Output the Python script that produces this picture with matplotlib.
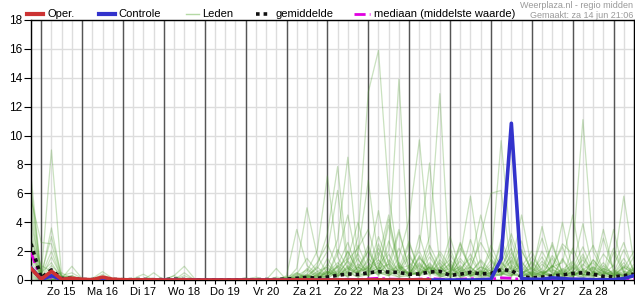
import numpy as np
import matplotlib
matplotlib.use("Agg")
import matplotlib.pyplot as plt
from matplotlib.lines import Line2D

plt.rcParams['font.family'] = ['Liberation Sans', 'DejaVu Sans']

# 6-hourly steps from za 14 jun 18:00 to zo 29 jun 12:00
n_steps = 60
day_labels = ["Zo 15", "Ma 16", "Di 17", "Wo 18", "Do 19", "Vr 20", "Za 21",
              "Zo 22", "Ma 23", "Di 24", "Wo 25", "Do 26", "Vr 27", "Za 28"]

oper = [0.8, 0.05, 0.6, 0.05, 0.12, 0.05, 0.02, 0.2, 0.05, 0.02,
        0.01, 0.01, 0.01, 0.0, 0.0, 0.01, 0.0, 0.0, 0.0, 0.0,
        0.0, 0.0, 0.0, 0.0, 0.0, 0.0, 0.01, 0.01, 0.0, 0.0,
        0.01, 0.0, 0.0, 0.01, 0.01, 0.0, 0.0, 0.0, 0.01, 0.0]

controle = [0.85, 0.03, 0.3, 0.03, 0.05, 0.02, 0.0, 0.05, 0.0, 0.0,
            0.0, 0.0, 0.0, 0.0, 0.0, 0.0, 0.0, 0.0, 0.0, 0.0,
            0.0, 0.0, 0.0, 0.0, 0.0, 0.0, 0.0, 0.0, 0.0, 0.0,
            0.0, 0.0, 0.0, 0.0, 0.0, 0.0, 0.0, 0.0, 0.0, 0.0,
            0.0, 0.0, 0.0, 0.0, 0.02, 0.05, 1.45, 10.85, 0.1, 0.05,
            0.05, 0.15, 0.1, 0.05, 0.05, 0.02, 0.02, 0.02, 0.1, 0.3]

gemiddelde = [2.5, 0.15, 0.7, 0.1, 0.12, 0.03, 0.03, 0.1, 0.04, 0.02,
              0.03, 0.04, 0.02, 0.03, 0.06, 0.03, 0.01, 0.01, 0.01, 0.01,
              0.01, 0.02, 0.02, 0.03, 0.03, 0.06, 0.12, 0.18, 0.12, 0.2,
              0.32, 0.42, 0.38, 0.5, 0.58, 0.55, 0.52, 0.4, 0.42, 0.55,
              0.6, 0.32, 0.4, 0.53, 0.42, 0.45, 0.72, 0.65, 0.25, 0.15,
              0.2, 0.28, 0.35, 0.45, 0.5, 0.4, 0.25, 0.22, 0.3, 0.4]

mediaan = [1.9, 0.02, 0.2, 0.02, 0.02, 0.0, 0.0, 0.02, 0.0, 0.0,
           0.0, 0.0, 0.0, 0.0, 0.0, 0.0, 0.0, 0.0, 0.0, 0.0,
           0.0, 0.0, 0.0, 0.0, 0.0, 0.0, 0.0, 0.02, 0.0, 0.02,
           0.04, 0.05, 0.03, 0.08, 0.12, 0.06, 0.05, 0.03, 0.06, 0.1,
           0.06, 0.02, 0.05, 0.1, 0.04, 0.06, 0.15, 0.12, 0.03, 0.02,
           0.03, 0.05, 0.04, 0.06, 0.05, 0.04, 0.02, 0.03, 0.04, 0.05]

# ensemble members, first part: idx 0..24 (za 14 18:00 .. vr 20 18:00)
leden_begin = [
    [7.2, 0.3, 9.0, 0.2, 0.1, 0, 0, 0.1, 0, 0, 0, 0, 0, 0, 0, 0, 0, 0, 0, 0, 0, 0, 0, 0, 0],
    [6.5, 0.2, 3.6, 0.1, 0.2, 0, 0, 0, 0, 0, 0, 0.1, 0, 0, 0, 0, 0, 0, 0, 0, 0, 0, 0, 0, 0],
    [6.0, 0.4, 3.0, 0.3, 0.1, 0, 0.1, 0.58, 0.1, 0, 0, 0, 0, 0, 0, 0, 0, 0, 0, 0, 0, 0, 0, 0, 0],
    [5.6, 2.6, 2.5, 0.2, 0.3, 0, 0, 0.1, 0, 0, 0, 0, 0, 0, 0.3, 0.95, 0.1, 0, 0, 0, 0, 0, 0, 0, 0],
    [5.2, 0.3, 2.0, 0.1, 0.95, 0.1, 0, 0, 0, 0, 0, 0, 0, 0, 0, 0, 0, 0, 0, 0, 0, 0, 0, 0, 0.1],
    [4.6, 0.1, 1.6, 0.2, 0.2, 0, 0, 0, 0, 0, 0.1, 0.4, 0, 0, 0, 0, 0, 0, 0, 0, 0, 0, 0, 0, 0],
    [4.0, 0.5, 1.2, 0.1, 0.1, 0, 0, 0.1, 0, 0, 0, 0, 0, 0, 0, 0.3, 0, 0, 0, 0, 0, 0, 0.1, 0, 0],
    [3.5, 0.2, 1.0, 0.3, 0.5, 0.1, 0, 0, 0, 0, 0, 0, 0, 0, 0, 0, 0, 0, 0, 0, 0, 0, 0, 0, 0.2],
    [3.0, 0.1, 0.8, 0.1, 0.1, 0, 0, 0.4, 0, 0, 0, 0, 0, 0, 0, 0, 0, 0, 0, 0, 0, 0, 0, 0, 0],
    [2.8, 1.0, 0.6, 0.1, 0.1, 0, 0, 0, 0, 0, 0, 0, 0.1, 0, 0, 0, 0, 0, 0, 0, 0, 0, 0, 0, 0],
    [2.5, 0.2, 0.5, 0.2, 0.1, 0, 0, 0, 0, 0, 0, 0, 0.5, 0, 0, 0, 0, 0, 0, 0, 0, 0, 0, 0, 0],
    [2.2, 0.1, 0.4, 0.1, 0.3, 0, 0, 0.2, 0, 0, 0, 0, 0, 0, 0, 0.1, 0, 0, 0, 0, 0, 0, 0, 0, 0],
    [2.0, 0.3, 0.3, 0.5, 0.1, 0, 0, 0, 0, 0, 0, 0, 0, 0, 0, 0.5, 0, 0, 0, 0, 0, 0, 0, 0, 0],
    [1.9, 0.1, 0.3, 0.1, 0.1, 0, 0, 0.25, 0, 0, 0, 0, 0, 0, 0, 0, 0, 0, 0, 0, 0, 0, 0, 0, 0],
    [1.6, 0.2, 0.2, 0.1, 0.1, 0, 0, 0, 0, 0, 0, 0, 0, 0, 0, 0, 0, 0, 0, 0, 0, 0, 0, 0, 0],
    [1.3, 0.1, 0.2, 0.1, 0, 0, 0, 0, 0, 0, 0, 0, 0, 0, 0.3, 0, 0, 0, 0, 0, 0, 0, 0, 0, 0],
    [1.0, 0.1, 0.1, 0, 0.1, 0, 0, 0, 0, 0, 0, 0, 0, 0, 0, 0, 0, 0, 0, 0, 0, 0, 0, 0, 0],
    [0.8, 0.1, 0.1, 0.1, 0, 0, 0, 0, 0, 0, 0, 0, 0, 0, 0, 0, 0, 0, 0, 0, 0, 0.15, 0, 0, 0],
    [0.6, 0, 0.1, 0, 0, 0, 0, 0, 0, 0, 0, 0, 0, 0, 0, 0, 0, 0, 0, 0, 0, 0, 0.2, 0, 0],
    [0.5, 0.1, 0.05, 0, 0, 0, 0, 0, 0, 0, 0, 0, 0, 0, 0, 0, 0, 0, 0, 0, 0, 0, 0, 0, 0.8],
    [0.4, 0, 0, 0, 0, 0, 0, 0, 0, 0, 0, 0, 0, 0, 0, 0, 0, 0, 0, 0, 0, 0, 0, 0, 0],
    [0.3, 0, 0, 0, 0, 0, 0, 0, 0, 0, 0, 0, 0, 0, 0, 0, 0, 0, 0, 0, 0, 0, 0, 0, 0],
    [0.2, 0, 0, 0, 0, 0, 0, 0, 0, 0, 0, 0, 0, 0, 0, 0, 0, 0, 0, 0, 0, 0, 0, 0, 0],
    [0.1, 0, 0, 0, 0, 0, 0, 0, 0, 0, 0, 0, 0, 0, 0, 0, 0, 0, 0, 0, 0, 0, 0, 0, 0],
]

# second part: idx 25..59 (za 21 00:00 .. zo 29 12:00)
leden_eind = [
    [0, 0.1, 0.3, 0.2, 0.5, 1.2, 0.6, 3.0, 13.0, 15.9, 6.0, 1.0, 0.4, 1.5, 0.8, 0.3, 0.1, 0.6, 1.8, 0.5, 0.2, 0.9, 2.2, 0.4, 0.1, 0.3, 1.0, 0.5, 0.2, 0.8, 0.3, 0.1, 0.4, 1.2, 0.3],
    [0.1, 0, 0.4, 1.2, 2.5, 0.8, 0.3, 1.1, 0.6, 1.0, 2.0, 13.9, 1.2, 0.5, 2.4, 0.9, 0.3, 0.1, 0.5, 1.4, 0.6, 1.8, 0.7, 0.2, 0.5, 1.6, 0.4, 0.2, 0.9, 0.3, 1.4, 0.6, 0.2, 0.1, 0.8],
    [0, 0.2, 0.1, 0.6, 0.3, 1.8, 4.5, 0.9, 0.4, 2.2, 0.8, 0.5, 1.6, 0.7, 3.0, 12.9, 0.2, 0.8, 0.3, 0.1, 0.4, 1.1, 3.2, 1.0, 0.3, 0.6, 0.2, 1.5, 0.4, 0.1, 0.6, 0.2, 1.9, 0.5, 0.3],
    [0.2, 0.5, 0.1, 0, 0.8, 0.3, 1.4, 2.2, 3.5, 0.9, 0.4, 1.6, 4.2, 9.7, 2.0, 0.6, 1.1, 0.3, 0.9, 2.6, 1.3, 0.5, 0.2, 2.0, 0.7, 2.9, 0.8, 0.3, 0.2, 1.0, 2.4, 0.7, 0.3, 0.9, 0.4],
    [0, 0, 0.8, 0.3, 0.1, 0.6, 2.0, 0.5, 1.3, 4.8, 1.0, 0.3, 0.6, 2.3, 8.1, 1.0, 0.2, 1.5, 0.6, 0.3, 2.4, 0.8, 0.3, 1.2, 0.4, 0.2, 1.7, 0.6, 1.0, 0.4, 0.1, 0.8, 0.5, 2.1, 0.6],
    [0.1, 0.4, 1.5, 0.6, 0.9, 2.8, 8.5, 1.4, 0.5, 1.9, 0.7, 3.3, 0.8, 0.3, 1.2, 0.4, 0.6, 2.2, 0.9, 0.3, 1.4, 0.5, 0.8, 2.7, 0.3, 1.1, 0.5, 0.2, 0.6, 1.8, 0.4, 1.2, 0.3, 0.5, 1.6],
    [0, 0.3, 0.2, 1.0, 3.2, 7.85, 1.2, 0.5, 2.1, 0.6, 3.8, 0.9, 0.3, 1.7, 0.5, 2.0, 0.9, 0.2, 2.8, 0.6, 0.4, 0.7, 1.3, 0.3, 1.2, 0.4, 0.9, 2.3, 0.5, 0.2, 0.8, 0.4, 1.0, 2.6, 0.5],
    [0.1, 0, 0.6, 2.0, 7.2, 1.6, 0.4, 2.4, 0.7, 1.2, 0.3, 0.8, 2.7, 0.4, 0.9, 0.2, 0.5, 1.3, 0.4, 0.2, 0.3, 2.5, 0.6, 0.9, 2.0, 0.5, 0.2, 0.7, 1.3, 0.4, 0.2, 2.9, 0.6, 0.3, 0.2],
    [0, 0.8, 5.0, 1.7, 0.4, 1.0, 2.6, 0.5, 0.9, 0.3, 1.4, 0.6, 0.2, 3.1, 0.7, 0.4, 1.8, 0.6, 0.3, 0.9, 0.2, 0.4, 1.9, 0.5, 0.8, 0.3, 2.6, 0.4, 0.2, 1.6, 0.5, 0.3, 0.7, 0.2, 1.1],
    [0, 0.1, 0.3, 0.1, 0.6, 0.4, 1.3, 0.7, 2.4, 0.5, 1.1, 0.3, 0.9, 2.0, 0.4, 1.2, 0.3, 0.8, 1.5, 0.4, 1.1, 9.65, 2.0, 0.3, 0.4, 1.3, 0.6, 0.2, 2.2, 0.7, 0.3, 1.0, 0.4, 1.5, 0.3],
    [0.2, 0, 0.1, 0.9, 0.3, 2.1, 0.8, 0.4, 1.5, 0.7, 4.2, 1.1, 0.3, 0.6, 1.9, 0.5, 2.2, 0.4, 0.7, 3.0, 6.0, 6.2, 0.8, 0.5, 0.3, 2.0, 0.7, 0.4, 1.2, 0.3, 0.9, 0.6, 0.2, 0.8, 2.0],
    [0, 0.3, 0.7, 0.2, 1.1, 0.4, 2.0, 0.6, 0.8, 3.0, 1.2, 0.4, 2.5, 0.8, 0.3, 1.4, 0.6, 1.7, 5.8, 1.0, 0.4, 1.2, 0.5, 2.1, 0.6, 0.3, 1.0, 0.4, 0.8, 2.3, 0.6, 0.2, 0.5, 0.3, 0.9],
    [0.1, 0.2, 0, 0.4, 0.2, 1.0, 0.5, 1.8, 0.6, 0.4, 2.7, 0.8, 1.0, 0.3, 1.6, 0.5, 0.8, 0.4, 1.2, 4.5, 1.5, 0.6, 2.8, 0.4, 0.9, 0.5, 0.2, 1.4, 0.3, 0.7, 1.2, 0.4, 2.2, 0.6, 0.4],
    [0, 0, 0.2, 0.5, 0.3, 0.7, 0.2, 0.9, 2.0, 0.5, 0.3, 1.2, 0.4, 1.6, 0.6, 0.3, 1.0, 0.2, 0.5, 1.3, 0.3, 0.8, 1.6, 0.6, 0.5, 0.3, 0.9, 2.5, 1.8, 11.1, 2.0, 0.5, 0.3, 0.9, 0.4],
    [0, 0.4, 0.1, 0.2, 1.5, 0.3, 0.6, 0.2, 0.7, 1.4, 0.5, 2.2, 0.6, 0.3, 1.0, 0.4, 0.4, 2.6, 0.8, 0.3, 0.9, 0.4, 1.0, 0.6, 1.6, 0.7, 0.3, 0.8, 0.4, 1.1, 0.5, 1.8, 0.9, 5.8, 1.2],
    [0.1, 0, 0.3, 0.1, 0.2, 0.9, 0.4, 1.5, 0.3, 2.5, 0.6, 1.0, 0.5, 1.2, 0.4, 0.8, 1.4, 0.5, 0.2, 0.7, 0.3, 2.8, 1.0, 4.5, 0.8, 0.4, 1.5, 0.3, 0.6, 0.3, 1.4, 0.5, 0.3, 1.0, 0.6],
    [0, 0.2, 0.4, 0, 0.6, 0.2, 1.0, 0.4, 0.3, 0.9, 0.4, 0.7, 1.8, 0.5, 0.9, 0.3, 0.6, 0.9, 0.3, 0.5, 1.9, 0.5, 0.3, 0.8, 0.4, 3.7, 0.9, 1.2, 4.5, 0.6, 0.3, 0.8, 0.4, 0.2, 0.6],
    [0, 0, 0.2, 0.3, 0.2, 0.5, 0.3, 0.6, 1.0, 0.4, 0.6, 0.2, 0.3, 1.0, 0.5, 1.8, 0.4, 0.3, 0.6, 0.2, 0.5, 0.3, 0.9, 0.4, 1.3, 0.5, 0.6, 4.0, 0.6, 1.4, 0.4, 3.5, 0.7, 0.4, 0.3],
    [0.2, 0.1, 0, 0.4, 0.9, 0.3, 0.5, 0.2, 0.4, 0.6, 1.8, 0.5, 0.3, 0.5, 0.8, 0.4, 1.2, 0.3, 0.4, 0.6, 0.2, 0.4, 0.6, 1.3, 0.3, 0.8, 2.4, 0.5, 0.9, 3.9, 0.6, 0.4, 3.5, 0.5, 0.3],
    [0, 0.1, 0.3, 0.8, 2.0, 6.2, 0.7, 1.9, 6.9, 1.4, 0.5, 0.9, 0.3, 0.6, 1.1, 0.4, 0.5, 0.2, 0.4, 0.9, 0.6, 1.3, 0.4, 0.2, 0.2, 0.6, 0.3, 0.5, 0.3, 0.5, 0.9, 0.3, 0.2, 0.4, 0.8],
    [0, 0.5, 0.2, 0.1, 0.4, 0.9, 1.5, 4.0, 1.2, 0.5, 0.3, 0.7, 0.5, 0.3, 0.9, 0.6, 3.0, 0.7, 0.3, 0.5, 0.2, 0.6, 0.4, 0.3, 0.5, 0.2, 0.4, 0.7, 0.3, 0.6, 0.2, 0.4, 0.6, 0.3, 0.5],
    [0, 0, 0.1, 0.3, 0.5, 0.3, 0.8, 0.4, 0.9, 1.6, 4.5, 0.8, 0.4, 1.1, 0.5, 0.2, 0.4, 1.0, 0.3, 0.6, 0.5, 0.3, 1.4, 0.6, 0.3, 0.5, 0.7, 0.3, 0.5, 0.4, 0.3, 0.6, 0.4, 0.2, 0.4],
    [0.1, 0, 0.2, 0.1, 0.3, 0.6, 0.2, 0.9, 0.5, 0.8, 1.1, 3.5, 0.7, 0.3, 0.5, 0.9, 0.3, 2.5, 0.6, 0.4, 0.7, 0.4, 0.3, 0.5, 0.2, 0.4, 0.3, 0.6, 0.4, 0.2, 0.5, 0.3, 0.5, 0.3, 0.7],
    [0.3, 3.5, 1.0, 0.4, 0.6, 0.2, 0.9, 0.5, 0.3, 0.6, 0.4, 0.2, 0.5, 0.4, 0.8, 0.3, 0.4, 0.6, 0.9, 0.3, 0.5, 0.8, 0.4, 0.3, 0.6, 0.3, 0.5, 0.4, 0.3, 0.7, 0.4, 0.5, 0.3, 0.6, 0.4],
]

x = np.arange(n_steps)

fig = plt.figure(figsize=(6.35, 3.0), dpi=100)
ax = fig.add_axes([31 / 635, 20 / 300, 603 / 635, 260 / 300])

# ensemble members
for begin, eind in zip(leden_begin, leden_eind):
    ax.plot(x, begin + eind, color='#4f9e2e', lw=0.9, alpha=0.3, zorder=2)

median_ls = (0, (4, 1.5, 1, 1.5))
mean_ls = (0, (1, 1.1))
ax.plot(x, mediaan, color='#e000e0', lw=2.0, ls=median_ls, zorder=4)
ax.plot(x, gemiddelde, color='#111111', lw=2.6, ls=mean_ls, zorder=5)
ax.plot(x, controle, color='#3333cc', lw=2.6, zorder=6)
ax.plot(x[:len(oper)], oper, color='#cc3333', lw=2.6, zorder=7)

# grid: light 6-hourly lines, dark day boundaries
ax.set_xlim(0, n_steps - 1)
ax.set_ylim(0, 18)
ax.set_yticks(range(0, 19, 2))
ax.set_xticks(x)
labels = [''] * n_steps
for d, lab in enumerate(day_labels):
    labels[3 + 4 * d] = lab
ax.set_xticklabels(labels)
ax.grid(True, color='#dddddd', lw=1.0, zorder=0)
for d in range(len(day_labels) + 1):
    ax.axvline(1 + 4 * d, color='#555555', lw=1.0, zorder=1.8)

ax.tick_params(axis='x', length=3, width=0.8, pad=2, labelsize=8)
ax.tick_params(axis='y', length=5, width=0.8, pad=1, labelsize=8.5)
for s in ax.spines.values():
    s.set_color('black')
    s.set_linewidth(1.0)

# legend drawn by hand along the top edge
legend_items = [
    ('Oper.', dict(color='#cc3333', lw=3)),
    ('Controle', dict(color='#3333cc', lw=3)),
    ('Leden', dict(color='#b5d9a5', lw=1)),
    ('gemiddelde', dict(color='#111111', lw=2.6, ls=mean_ls)),
    ('mediaan (middelste waarde)', dict(color='#e000e0', lw=2.0, ls=median_ls)),
]
handle_x = [(27, 43), (99, 115), (186, 199), (256, 271), (354, 370)]
text_x = [47, 118, 202, 276, 374]
ly = 1 - 14 / 300
for (name, style), (x0, x1), tx in zip(legend_items, handle_x, text_x):
    fig.add_artist(Line2D([x0 / 635, x1 / 635], [ly, ly], transform=fig.transFigure, **style))
    fig.text(tx / 635, ly, name, ha='left', va='center', fontsize=8)

fig.text(0.997, 0.997, 'Weerplaza.nl - regio midden', ha='right', va='top',
         fontsize=6.5, color='#999999')
fig.text(0.997, 0.965, 'Gemaakt: za 14 jun 21:06', ha='right', va='top',
         fontsize=6.5, color='#999999')

fig.savefig('out.png', dpi=100)
